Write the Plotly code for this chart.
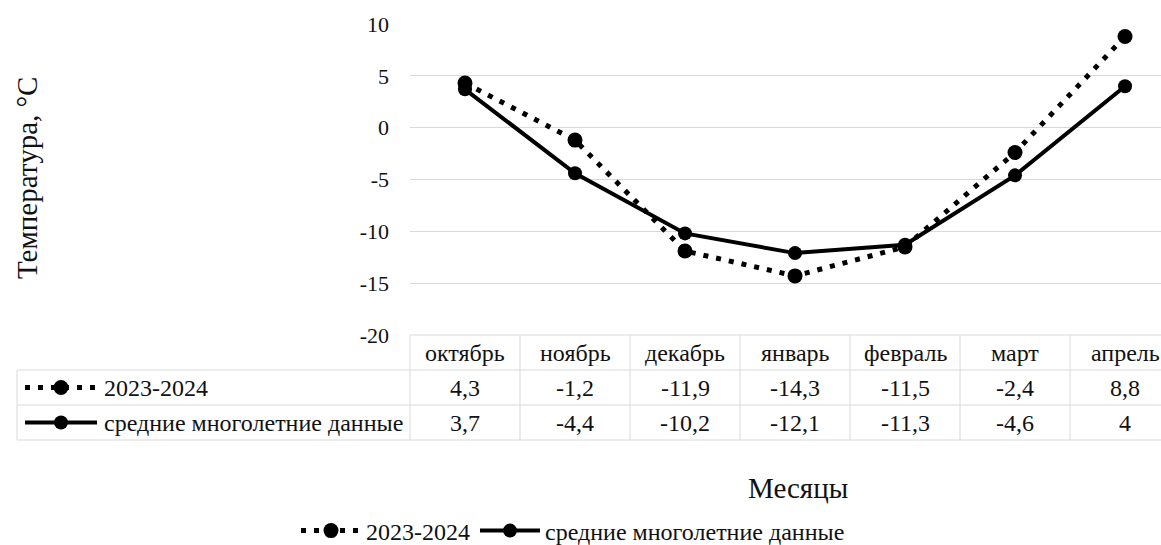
import plotly.graph_objects as go

# ---- data ----
months = ["октябрь", "ноябрь", "декабрь", "январь", "февраль", "март", "апрель"]
series_2023 = [4.3, -1.2, -11.9, -14.3, -11.5, -2.4, 8.8]
series_avg = [3.7, -4.4, -10.2, -12.1, -11.3, -4.6, 4.0]
name_2023 = "2023-2024"
name_avg = "средние многолетние данные"
y_ticks = [10, 5, 0, -5, -10, -15, -20]
y_ticklabels = ["10", "5", "0", "-5", "-10", "-15", "-20"]

FONT = "Liberation Serif"
W, H = 1161, 545
ML, MR, MT, MB = 410, 0, 24, 210
PW, PH = W - ML - MR, H - MT - MB
GRID = "#d9d9d9"
TXT = "#111111"
TABLE_FS = 24
X_MAX = 6.327


def px_x(p):
    return (p - ML) / PW


def px_y(p):
    return (H - MB - p) / PH


def fmt(v):
    return ("%g" % v).replace(".", ",")


xs = list(range(len(months)))

fig = go.Figure()
fig.add_trace(go.Scatter(
    x=xs, y=series_2023, name=name_2023, mode="lines+markers",
    line=dict(color="black", width=5, dash="5px,8px"),
    marker=dict(color="black", size=15, symbol="circle"),
))
fig.add_trace(go.Scatter(
    x=xs, y=series_avg, name=name_avg, mode="lines+markers",
    line=dict(color="black", width=4),
    marker=dict(color="black", size=14, symbol="circle"),
))

shapes = []
annotations = []

# table geometry (pixels)
row_top, row1, row2, row_bot = 335, 370, 405, 440
table_left = 17
line_style = dict(color=GRID, width=1)

shapes.append(dict(type="line", xref="paper", yref="paper", x0=0, x1=1,
                   y0=px_y(row_top), y1=px_y(row_top), line=line_style, layer="below"))
for yy in (row1, row2, row_bot):
    shapes.append(dict(type="line", xref="paper", yref="paper", x0=px_x(table_left), x1=1,
                       y0=px_y(yy), y1=px_y(yy), line=line_style))
shapes.append(dict(type="line", xref="paper", yref="paper", x0=px_x(table_left), x1=px_x(table_left),
                   y0=px_y(row1), y1=px_y(row_bot), line=line_style))
for i in range(len(months)):
    xb = i / (X_MAX + 0.5)  # left boundary of category i, in paper units
    shapes.append(dict(type="line", xref="paper", yref="paper", x0=xb, x1=xb,
                       y0=px_y(row_top), y1=px_y(row_bot), line=line_style))

tfont = dict(family=FONT, size=TABLE_FS, color=TXT)
for i, m in enumerate(months):
    for txt, yy in ((m, (row_top + row1) / 2),
                    (fmt(series_2023[i]), (row1 + row2) / 2),
                    (fmt(series_avg[i]), (row2 + row_bot) / 2)):
        annotations.append(dict(x=i, y=px_y(yy), xref="x", yref="paper", xanchor="center",
                                yanchor="middle", text=txt, showarrow=False, font=tfont))

for (name, yy, dash, w, msz) in ((name_2023, (row1 + row2) / 2, "5px,8px", 5, 15),
                                  (name_avg, (row2 + row_bot) / 2, "solid", 4, 14)):
    shapes.append(dict(type="line", xref="paper", yref="paper", x0=px_x(25), x1=px_x(97),
                       y0=px_y(yy), y1=px_y(yy), line=dict(color="black", width=w, dash=dash)))
    shapes.append(dict(type="circle", xref="paper", yref="paper", xsizemode="pixel", ysizemode="pixel",
                       xanchor=px_x(61), yanchor=px_y(yy), x0=-msz / 2, x1=msz / 2,
                       y0=-msz / 2, y1=msz / 2, fillcolor="black", line=dict(color="black", width=0)))
    annotations.append(dict(x=px_x(102), y=px_y(yy), xref="paper", yref="paper", xanchor="left",
                            yanchor="middle", text=name, showarrow=False, font=tfont))

annotations.append(dict(x=px_x(798), y=px_y(488), xref="paper", yref="paper", text="Месяцы",
                        xanchor="center", yanchor="middle",
                        showarrow=False, font=dict(family=FONT, size=29, color=TXT)))
annotations.append(dict(x=px_x(27), y=px_y(178), xref="paper", yref="paper", text="Температура, °С",
                        xanchor="center", yanchor="middle",
                        textangle=-90, showarrow=False, font=dict(family=FONT, size=29, color=TXT)))

fig.update_layout(
    width=W, height=H, autosize=False,
    margin=dict(l=ML, r=MR, t=MT, b=MB, pad=0, autoexpand=False),
    paper_bgcolor="white", plot_bgcolor="white",
    font=dict(family=FONT, color=TXT),
    showlegend=True,
    legend=dict(orientation="h", xref="container", x=573 / W, xanchor="center",
                yref="container", y=(H - 531) / H, yanchor="middle",
                font=dict(family=FONT, size=TABLE_FS, color=TXT), itemwidth=60,
                bgcolor="rgba(0,0,0,0)"),
    xaxis=dict(range=[-0.5, X_MAX], showticklabels=False, showgrid=False, zeroline=False,
               showline=False, ticks="", fixedrange=True),
    yaxis=dict(range=[-20, 10], tickvals=y_ticks, ticktext=y_ticklabels, showgrid=True,
               gridcolor=GRID, gridwidth=1, zeroline=False, showline=False, ticks="",
               ticklabelstandoff=20, tickfont=dict(family=FONT, size=22, color=TXT)),
    shapes=shapes, annotations=annotations,
)

fig.write_html("out.html")
